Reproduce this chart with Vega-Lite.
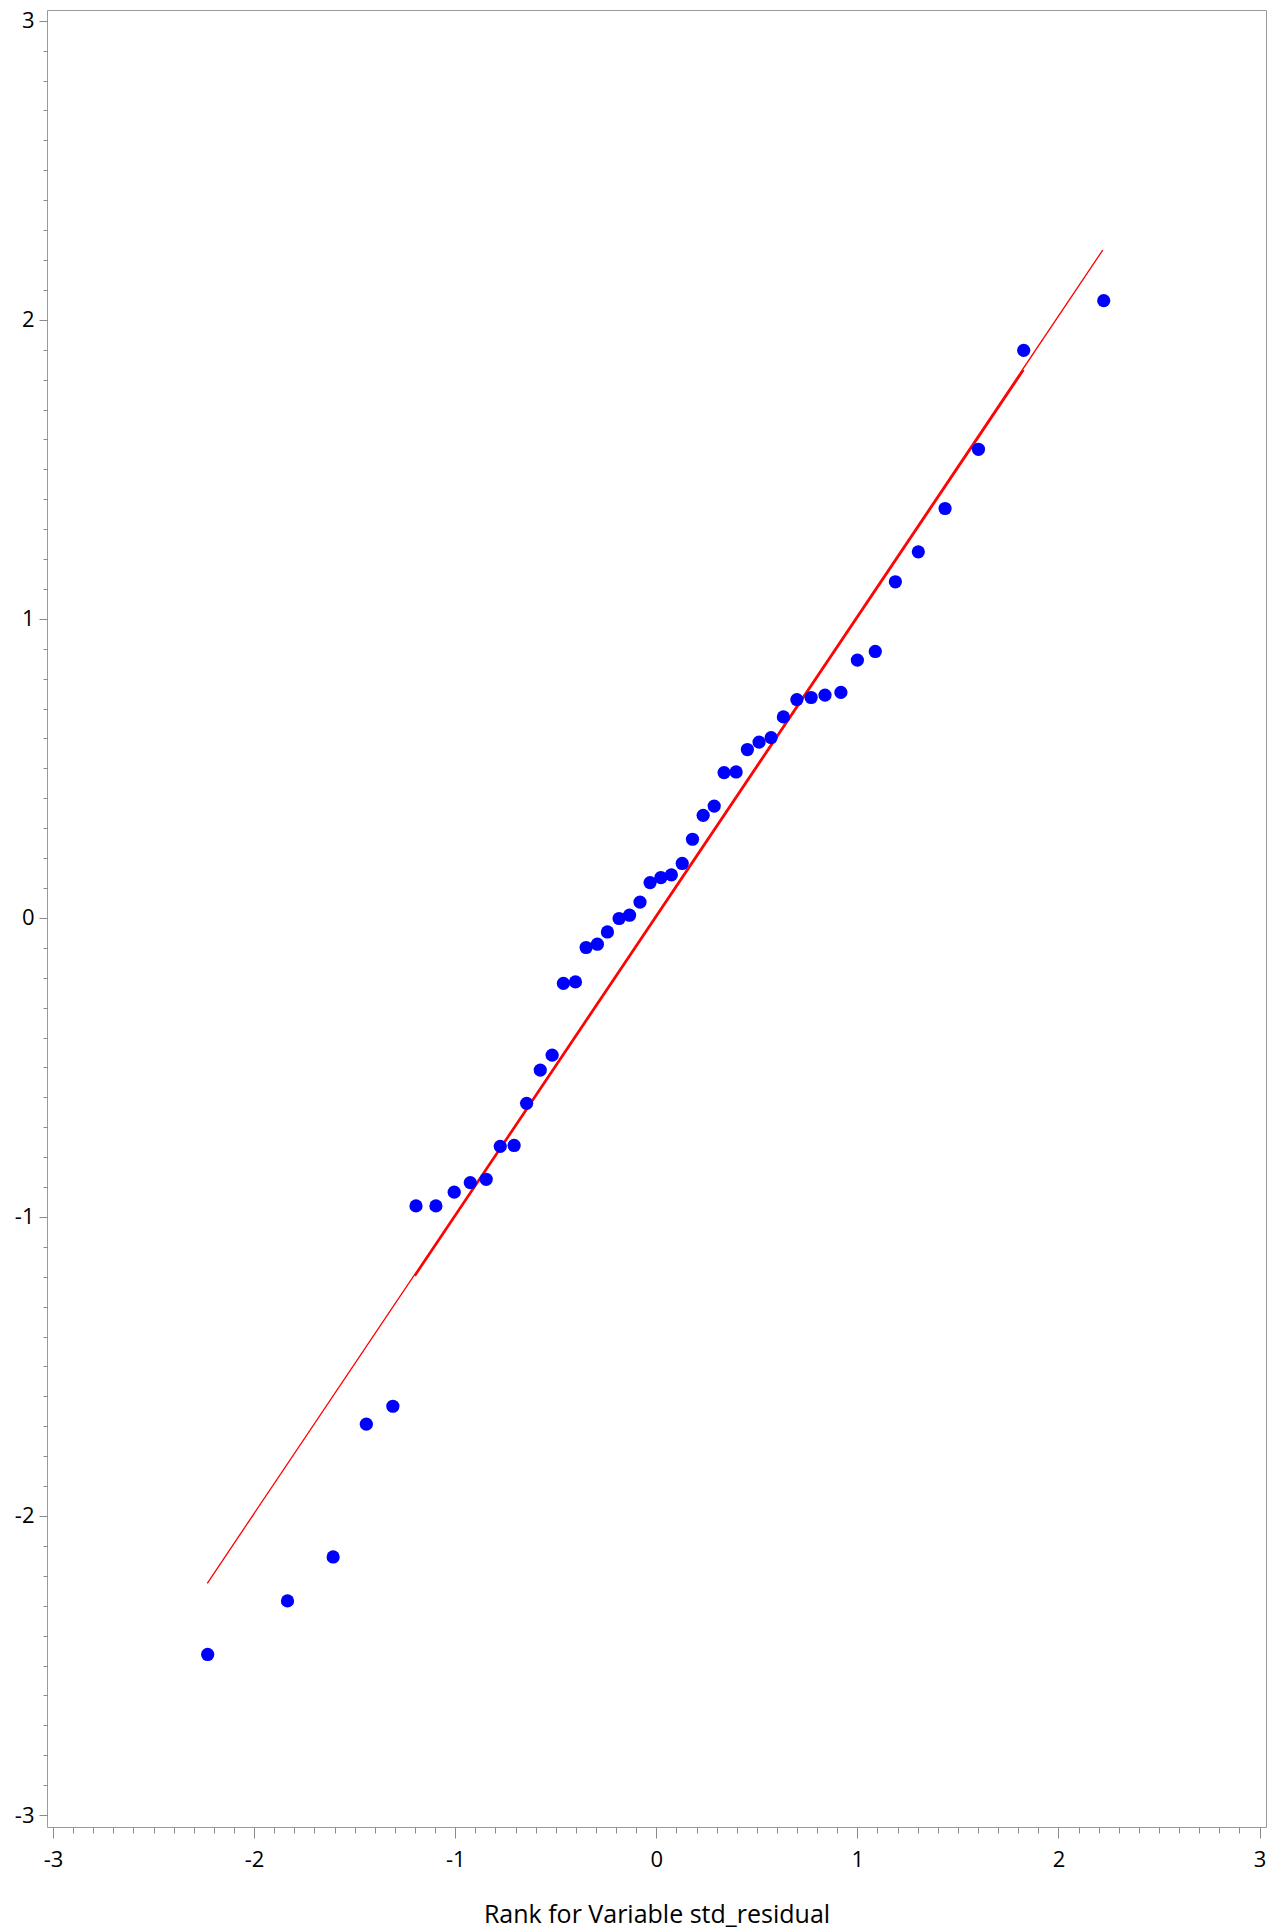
{
  "$schema": "https://vega.github.io/schema/vega-lite/v6.json",
  "width": 1219,
  "height": 1817,
  "autosize": {"type": "none"},
  "padding": {"left": 47, "top": 10, "right": 18, "bottom": 105},
  "background": "white",
  "config": {
    "view": {"stroke": "#9a9a9a", "strokeWidth": 1},
    "font": "Open Sans",
    "axis": {
      "labelFont": "Open Sans",
      "titleFont": "Open Sans",
      "labelColor": "black",
      "titleColor": "black",
      "tickColor": "#8a8a8a",
      "domain": false,
      "grid": false,
      "labelFontSize": 22,
      "titleFontSize": 25,
      "titleFontWeight": "normal"
    }
  },
  "datasets": {
    "pts": [
      {"x": -2.231, "y": -2.463},
      {"x": -1.834, "y": -2.284},
      {"x": -1.607, "y": -2.137},
      {"x": -1.442, "y": -1.693},
      {"x": -1.310, "y": -1.633},
      {"x": -1.195, "y": -0.963},
      {"x": -1.096, "y": -0.963},
      {"x": -1.005, "y": -0.917},
      {"x": -0.925, "y": -0.885},
      {"x": -0.846, "y": -0.874},
      {"x": -0.776, "y": -0.764},
      {"x": -0.707, "y": -0.761},
      {"x": -0.645, "y": -0.620},
      {"x": -0.577, "y": -0.509},
      {"x": -0.518, "y": -0.459},
      {"x": -0.462, "y": -0.219},
      {"x": -0.402, "y": -0.214},
      {"x": -0.349, "y": -0.099},
      {"x": -0.293, "y": -0.088},
      {"x": -0.243, "y": -0.047},
      {"x": -0.185, "y": -0.002},
      {"x": -0.133, "y": 0.009},
      {"x": -0.081, "y": 0.053},
      {"x": -0.031, "y": 0.118},
      {"x": 0.023, "y": 0.135},
      {"x": 0.075, "y": 0.144},
      {"x": 0.129, "y": 0.182},
      {"x": 0.180, "y": 0.263},
      {"x": 0.233, "y": 0.343},
      {"x": 0.288, "y": 0.374},
      {"x": 0.337, "y": 0.486},
      {"x": 0.397, "y": 0.488},
      {"x": 0.453, "y": 0.563},
      {"x": 0.511, "y": 0.588},
      {"x": 0.571, "y": 0.603},
      {"x": 0.632, "y": 0.672},
      {"x": 0.699, "y": 0.730},
      {"x": 0.770, "y": 0.737},
      {"x": 0.839, "y": 0.745},
      {"x": 0.918, "y": 0.754},
      {"x": 1.000, "y": 0.862},
      {"x": 1.089, "y": 0.891},
      {"x": 1.189, "y": 1.124},
      {"x": 1.303, "y": 1.224},
      {"x": 1.436, "y": 1.369},
      {"x": 1.602, "y": 1.567},
      {"x": 1.827, "y": 1.898},
      {"x": 2.225, "y": 2.064}
    ],
    "line1": [
      {"x": -2.233, "y": -2.225},
      {"x": 2.220, "y": 2.233}
    ],
    "line2": [
      {"x": -1.2, "y": -1.197},
      {"x": 1.827, "y": 1.832}
    ]
  },
  "resolve": {"axis": {"x": "independent", "y": "independent"}},
  "layer": [
    {
      "data": {"name": "line1"},
      "mark": {"type": "line", "color": "#ff0000", "strokeWidth": 1.3, "clip": true},
      "encoding": {
        "x": {
          "field": "x", "type": "quantitative",
          "scale": {"domain": [-3.03, 3.032], "nice": false, "zero": false},
          "axis": {
            "orient": "bottom",
            "values": [-3,-2.9,-2.8,-2.7,-2.6,-2.5,-2.4,-2.3,-2.2,-2.1,-2,-1.9,-1.8,-1.7,-1.6,-1.5,-1.4,-1.3,-1.2,-1.1,-1,-0.9,-0.8,-0.7,-0.6,-0.5,-0.4,-0.3,-0.2,-0.1,0,0.1,0.2,0.3,0.4,0.5,0.6,0.7,0.8,0.9,1,1.1,1.2,1.3,1.4,1.5,1.6,1.7,1.8,1.9,2,2.1,2.2,2.3,2.4,2.5,2.6,2.7,2.8,2.9,3],
            "labels": false,
            "tickSize": 6,
            "title": null
          }
        },
        "y": {
          "field": "y", "type": "quantitative",
          "scale": {"domain": [-3.04, 3.036], "nice": false, "zero": false},
          "axis": {
            "orient": "left",
            "values": [-3,-2.9,-2.8,-2.7,-2.6,-2.5,-2.4,-2.3,-2.2,-2.1,-2,-1.9,-1.8,-1.7,-1.6,-1.5,-1.4,-1.3,-1.2,-1.1,-1,-0.9,-0.8,-0.7,-0.6,-0.5,-0.4,-0.3,-0.2,-0.1,0,0.1,0.2,0.3,0.4,0.5,0.6,0.7,0.8,0.9,1,1.1,1.2,1.3,1.4,1.5,1.6,1.7,1.8,1.9,2,2.1,2.2,2.3,2.4,2.5,2.6,2.7,2.8,2.9,3],
            "labels": false,
            "tickSize": 4,
            "title": null
          }
        }
      }
    },
    {
      "data": {"name": "line2"},
      "mark": {"type": "line", "color": "#ff0000", "strokeWidth": 2, "clip": true},
      "encoding": {
        "x": {"field": "x", "type": "quantitative", "axis": null},
        "y": {"field": "y", "type": "quantitative", "axis": null}
      }
    },
    {
      "data": {"name": "pts"},
      "mark": {"type": "circle", "color": "#0000ff", "opacity": 1, "size": 175, "clip": true},
      "encoding": {
        "x": {
          "field": "x", "type": "quantitative",
          "axis": {
            "orient": "bottom",
            "values": [-3, -2, -1, 0, 1, 2, 3],
            "labelExpr": "'' + datum.value",
            "tickSize": 11,
            "labelPadding": 11,
            "title": "Rank for Variable std_residual",
            "titlePadding": 32
          }
        },
        "y": {
          "field": "y", "type": "quantitative",
          "axis": {
            "orient": "left",
            "values": [-3, -2, -1, 0, 1, 2, 3],
            "labelExpr": "'' + datum.value",
            "tickSize": 8,
            "labelPadding": 5,
            "title": null
          }
        }
      }
    }
  ]
}
